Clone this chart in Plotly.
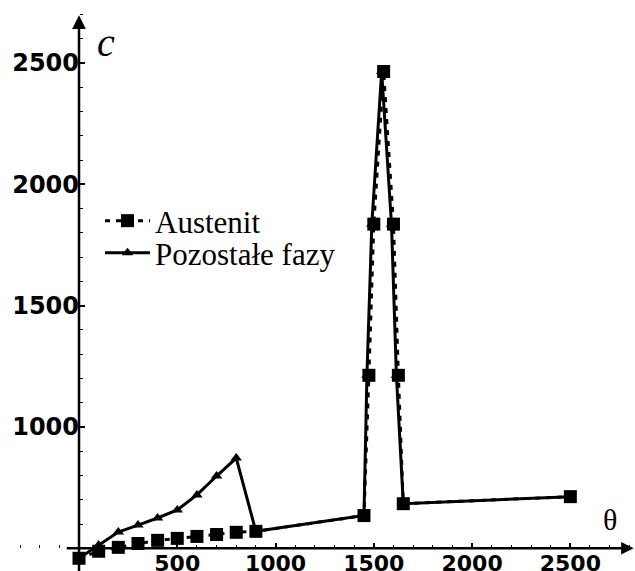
import plotly.graph_objects as go

# data
theta_aust = [0, 100, 200, 300, 400, 500, 600, 700, 800, 900,
              1450, 1475, 1500, 1550, 1600, 1625, 1650, 2500]
c_aust = [459, 488, 504, 520, 533, 541, 549, 557, 566, 570,
          635, 1213, 1836, 2465, 1836, 1213, 684, 713]

theta_poz = [0, 100, 200, 300, 400, 500, 600, 700, 800, 900,
             1450, 1465, 1490, 1540, 1590, 1615, 1650, 2500]
c_poz = [459, 514, 567, 596, 625, 658, 720, 798, 872, 570,
         635, 1213, 1836, 2465, 1836, 1213, 684, 713]

x_ticks = [500, 1000, 1500, 2000, 2500]
y_ticks = [1000, 1500, 2000, 2500]

X_RANGE = [-402, 2829]
Y_RANGE = [406.6, 2759.6]
X_ORIGIN = 0
Y_ORIGIN = 500

fig = go.Figure()

fig.add_trace(go.Scatter(
    x=theta_poz, y=c_poz, name="Pozostałe fazy", mode="lines+markers",
    line=dict(color="black", width=3),
    marker=dict(symbol="triangle-up", size=10, color="black"),
    legend="legend2",
))
fig.add_trace(go.Scatter(
    x=theta_aust, y=c_aust, name="Austenit", mode="lines+markers",
    line=dict(color="black", width=3, dash="5px,6px"),
    marker=dict(symbol="square", size=13, color="black"),
    legend="legend",
))

ypos = (Y_ORIGIN - Y_RANGE[0]) / (Y_RANGE[1] - Y_RANGE[0])
xpos = (X_ORIGIN - X_RANGE[0]) / (X_RANGE[1] - X_RANGE[0])

xtickfont = dict(family="DejaVu Sans", size=22, color="black", weight="bold")
ytickfont = dict(family="DejaVu Sans", size=24, color="black", weight="bold")
legfont = dict(family="Liberation Serif", size=31, color="black")

fig.update_layout(
    width=635, height=571,
    margin=dict(l=0, r=0, t=0, b=0),
    paper_bgcolor="white", plot_bgcolor="white",
    showlegend=True,
    legend=dict(x=0.1575, y=1 - 221 / 571, xanchor="left", yanchor="middle",
                bgcolor="rgba(0,0,0,0)", font=legfont, itemwidth=45),
    legend2=dict(x=0.1575, y=1 - 253 / 571, xanchor="left", yanchor="middle",
                 bgcolor="rgba(0,0,0,0)", font=legfont, itemwidth=45),
    xaxis=dict(range=X_RANGE, anchor="free", position=ypos, automargin=False,
               showgrid=False, zeroline=False, showline=False,
               tickvals=x_ticks, ticks="inside", ticklen=5, tickwidth=1.5,
               tickcolor="black", tickfont=xtickfont,
               minor=dict(dtick=100, tick0=0, ticks="inside", ticklen=3,
                          tickwidth=1.2, tickcolor="black")),
    yaxis=dict(range=Y_RANGE, anchor="free", position=xpos, automargin=False,
               showgrid=False, zeroline=False, showline=False,
               tickvals=y_ticks, ticks="inside", ticklen=5, tickwidth=1.5,
               tickcolor="black", tickfont=ytickfont,
               minor=dict(dtick=100, tick0=0, ticks="inside", ticklen=3,
                          tickwidth=1.2, tickcolor="black")),
)

# axes with arrows
fig.add_annotation(x=2822, y=Y_ORIGIN, ax=-70, ay=Y_ORIGIN,
                   xref="x", yref="y", axref="x", ayref="y",
                   text="", showarrow=True, arrowhead=2, arrowsize=1.0,
                   arrowwidth=2.5, arrowcolor="black")
fig.add_annotation(x=X_ORIGIN, y=2697, ax=X_ORIGIN, ay=400,
                   xref="x", yref="y", axref="x", ayref="y",
                   text="", showarrow=True, arrowhead=2, arrowsize=1.1,
                   arrowwidth=2.5, arrowcolor="black")

fig.add_annotation(x=137, y=2586, xref="x", yref="y", text="<i>c</i>",
                   showarrow=False,
                   font=dict(family="Liberation Serif", size=40, color="black"))
fig.add_annotation(x=2704, y=619, xref="x", yref="y", text="θ",
                   showarrow=False,
                   font=dict(family="Liberation Serif", size=30, color="black"))

fig.write_html("out.html")
